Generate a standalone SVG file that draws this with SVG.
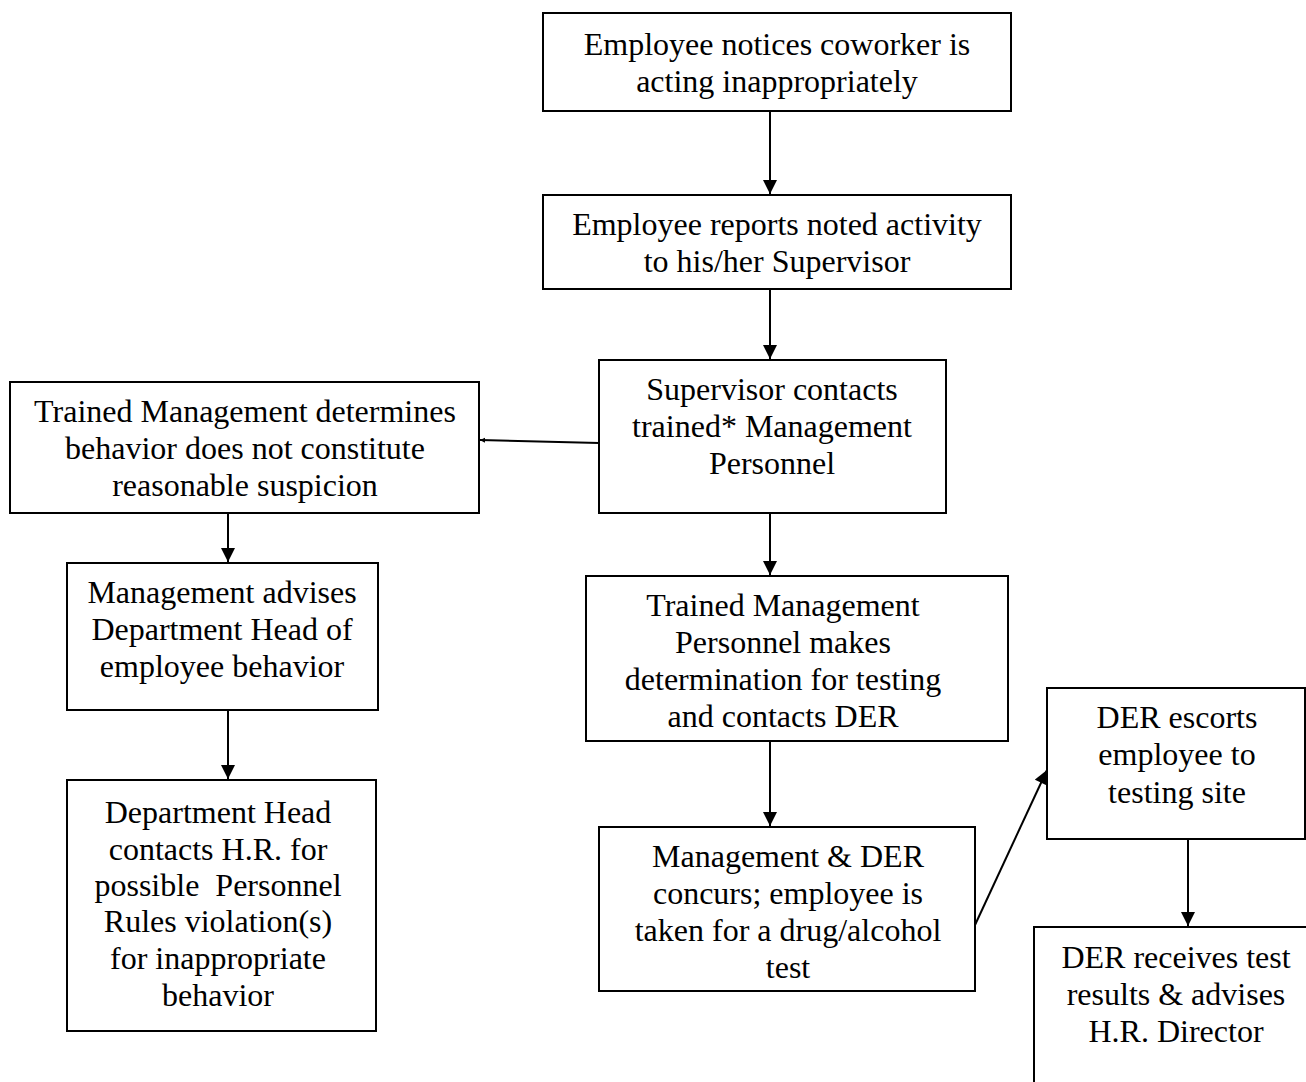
<svg xmlns="http://www.w3.org/2000/svg" width="1306" height="1082" viewBox="0 0 1306 1082">
<style>
.box{fill:#fff;stroke:#000;stroke-width:2}
.t{font-family:"Liberation Serif","Times New Roman",serif;font-size:32px;fill:#000;text-anchor:middle}
.c{stroke:#000;stroke-width:2;fill:none}
</style>
<defs>
<marker id="ah" viewBox="0 0 10 10" refX="10" refY="5" markerWidth="15" markerHeight="14" markerUnits="userSpaceOnUse" orient="auto">
<path d="M0,0 L10,5 L0,10 z" fill="#000"/>
</marker>
<marker id="ah2" viewBox="0 0 10 10" refX="10" refY="5" markerWidth="5" markerHeight="12" markerUnits="userSpaceOnUse" orient="auto">
<path d="M0,0 L10,5 L0,10 z" fill="#000"/>
</marker>
</defs>
<g id="connectors">
<line class="c" x1="770" y1="111" x2="770" y2="194" marker-end="url(#ah)"/>
<line class="c" x1="770" y1="289" x2="770" y2="359" marker-end="url(#ah)"/>
<line class="c" x1="599" y1="443" x2="480" y2="440" marker-end="url(#ah2)"/>
<line class="c" x1="228" y1="513" x2="228" y2="562" marker-end="url(#ah)"/>
<line class="c" x1="228" y1="710" x2="228" y2="779" marker-end="url(#ah)"/>
<line class="c" x1="770" y1="513" x2="770" y2="575" marker-end="url(#ah)"/>
<line class="c" x1="770" y1="741" x2="770" y2="826" marker-end="url(#ah)"/>
<line class="c" x1="975" y1="925" x2="1047" y2="770" marker-end="url(#ah)"/>
<line class="c" x1="1188" y1="839" x2="1188" y2="926" marker-end="url(#ah)"/>
</g>
<g id="n1"><rect class="box" x="543" y="13" width="468" height="98"/>
<text class="t" x="777" y="55">Employee notices coworker is</text>
<text class="t" x="777" y="92">acting inappropriately</text></g>
<g id="n2"><rect class="box" x="543" y="195" width="468" height="94"/>
<text class="t" x="777" y="235">Employee reports noted activity</text>
<text class="t" x="777" y="272">to his/her Supervisor</text></g>
<g id="n3"><rect class="box" x="599" y="360" width="347" height="153"/>
<text class="t" x="772" y="400">Supervisor contacts</text>
<text class="t" x="772" y="437">trained* Management</text>
<text class="t" x="772" y="474">Personnel</text></g>
<g id="n4"><rect class="box" x="10" y="382" width="469" height="131"/>
<text class="t" x="245" y="422">Trained Management determines</text>
<text class="t" x="245" y="459">behavior does not constitute</text>
<text class="t" x="245" y="496">reasonable suspicion</text></g>
<g id="n5"><rect class="box" x="67" y="563" width="311" height="147"/>
<text class="t" x="222" y="603">Management advises</text>
<text class="t" x="222" y="640">Department Head of</text>
<text class="t" x="222" y="677">employee behavior</text></g>
<g id="n6"><rect class="box" x="67" y="780" width="309" height="251"/>
<text class="t" x="218" y="823">Department Head</text>
<text class="t" x="218" y="860">contacts H.R. for</text>
<text class="t" x="218" y="896" xml:space="preserve">possible  Personnel</text>
<text class="t" x="218" y="932">Rules violation(s)</text>
<text class="t" x="218" y="969">for inappropriate</text>
<text class="t" x="218" y="1006">behavior</text></g>
<g id="n7"><rect class="box" x="586" y="576" width="422" height="165"/>
<text class="t" x="783" y="616">Trained Management</text>
<text class="t" x="783" y="653">Personnel makes</text>
<text class="t" x="783" y="690">determination for testing</text>
<text class="t" x="783" y="727">and contacts DER</text></g>
<g id="n8"><rect class="box" x="599" y="827" width="376" height="164"/>
<text class="t" x="788" y="867">Management &amp; DER</text>
<text class="t" x="788" y="904">concurs; employee is</text>
<text class="t" x="788" y="941">taken for a drug/alcohol</text>
<text class="t" x="788" y="978">test</text></g>
<g id="n9"><rect class="box" x="1047" y="688" width="258" height="151"/>
<text class="t" x="1177" y="728">DER escorts</text>
<text class="t" x="1177" y="765">employee to</text>
<text class="t" x="1177" y="803">testing site</text></g>
<g id="n10"><rect class="box" x="1034" y="927" width="290" height="170"/>
<text class="t" x="1176" y="968">DER receives test</text>
<text class="t" x="1176" y="1005">results &amp; advises</text>
<text class="t" x="1176" y="1042">H.R. Director</text></g>
</svg>
